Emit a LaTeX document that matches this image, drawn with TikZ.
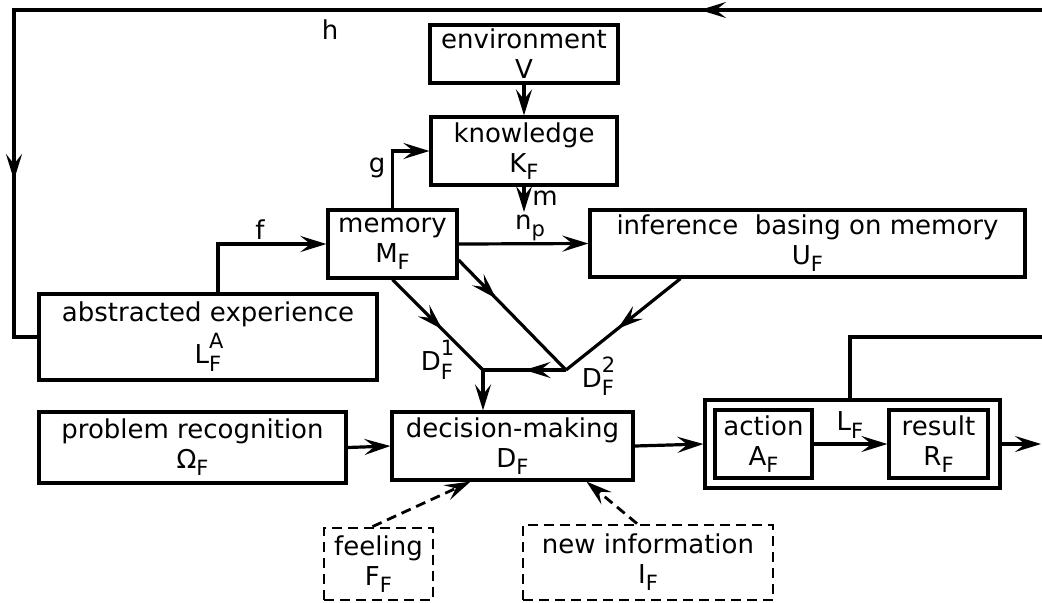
\documentclass[tikz,border=0pt]{standalone}
\usepackage{fontspec}
\setmainfont{DejaVu Sans}
\usetikzlibrary{arrows.meta,calc,decorations.markings}
\newcommand{\lsub}[1]{\raisebox{-0.5ex}{\fontsize{10.5}{10.5}\selectfont #1}}
\newcommand{\lsubsup}[2]{\rlap{\raisebox{1.05ex}{\fontsize{10.5}{10.5}\selectfont #2}}\raisebox{-0.6ex}{\fontsize{10.5}{10.5}\selectfont #1}}

\begin{document}
\begin{tikzpicture}[x=0.5pt, y=-0.5pt, line width=1.6pt,
  >={Stealth[length=13pt, width=8pt, inset=5pt]},
  every node/.style={align=center, font=\fontsize{13}{15}\selectfont, inner sep=1pt},
  box/.style={draw, line width=1.6pt},
  dbox/.style={draw, line width=1.4pt, dash pattern=on 5pt off 3pt},
  midarrow/.style={postaction={decorate, decoration={markings, mark=at position #1 with {\arrow{>}}}}}]
  \useasboundingbox (0,0) rectangle (1042,602);

  % boxes
  \node[box, minimum width=94pt, minimum height=29pt] (env) at (524,54) {environment\\V};
  \node[box, minimum width=93pt, minimum height=34pt] (know) at (524,151) {knowledge\\K\lsub{F}};
  \node[box, minimum width=64.5pt, minimum height=34pt] (mem) at (392.5,244) {memory\\M\lsub{F}};
  \node[box, minimum width=217.5pt, minimum height=33.5pt] (inf) at (807.5,243.5) {inference~~basing on memory\\U\lsub{F}};
  \node[box, minimum width=169pt, minimum height=43pt] (abs) at (208,337) {abstracted experience\\[2pt]L\lsubsup{F}{A}};
  \node[box, minimum width=153.5pt, minimum height=35.5pt] (prob) at (192.5,447.5) {problem recognition\\Ω\lsub{F}};
  \node[box, minimum width=120.5pt, minimum height=34pt] (dec) at (512.5,446) {decision-making\\D\lsub{F}};
  \node[box, minimum width=147.5pt, minimum height=44pt] (grp) at (852.5,444) {};
  \node[box, minimum width=48.5pt, minimum height=34pt] (act) at (763.5,444) {action\\A\lsub{F}};
  \node[box, minimum width=49.5pt, minimum height=34pt] (res) at (938.5,444) {result\\R\lsub{F}};
  \node[dbox, minimum width=54.5pt, minimum height=36pt] (feel) at (378.5,564) {feeling\\F\lsub{F}};
  \node[dbox, minimum width=125pt, minimum height=37.5pt] (newi) at (648,562.5) {new information\\I\lsub{F}};

  % labels
  \node (hlab) at (330,30) {h};
  \node (glab) at (377,168) {g};
  \node (flab) at (260,230) {f};
  \node (mlab) at (545,198) {m};
  \node (nplab) at (530,228) {n\lsub{p}};
  \node (d1lab) at (437,360) {D\lsubsup{F}{1}};
  \node (d2lab) at (598,376) {D\lsubsup{F}{2}};
  \node (lflab) at (850,425) {L\lsub{F}};

  % free ends and junctions
  \coordinate (tr) at (1042,10);
  \coordinate (tl) at (14,10);
  \coordinate (mend) at (524,212);
  \coordinate (d1) at (483,370);
  \coordinate (d2) at (566,370);
  \coordinate (fb) at (850,337);
  \coordinate (fbr) at (1042,337);
  \coordinate (outr) at (1041,444);

  % connectors
  \draw[midarrow=171pt, midarrow=599pt] (tr) -- (tl) -- (tl |- abs.west) -- (abs.west);
  \draw[->] (env) -- (know);
  \draw[->] (mem.north) |- (know.west);
  \draw[->] ([xshift=5pt]abs.north) |- (mem.west);
  \draw[->] (know.south) -- (mend);
  \draw[->] (mem.east) -- (inf.west);
  \draw[midarrow=0.55] (mem.south) -- (d1);
  \draw[midarrow=0.35] ([yshift=-8pt]mem.east) -- (d2);
  \draw[midarrow=0.55] ($(inf.south west)!0.21!(inf.south east)$) -- (d2);
  \draw[midarrow=0.5] (d2) -- (d1);
  \draw[->] (d1) -- (d1 |- dec.north);
  \draw[->] (prob.east) -- (dec.west);
  \draw[->] (dec.east) -- (grp.west);
  \draw[->] (act) -- (res);
  \draw[->] (grp.east) -- (outr);
  \draw (fb |- grp.north) -- (fb) -- (fbr);
  \draw[->, line width=1.4pt, dash pattern=on 5pt off 3pt] ([xshift=-3pt]feel.north) -- ([xshift=-21pt]dec.south);
  \draw[->, line width=1.4pt, dash pattern=on 5pt off 3pt] ([xshift=-5.5pt]newi.north) -- ([xshift=37pt]dec.south);
\end{tikzpicture}
\end{document}
